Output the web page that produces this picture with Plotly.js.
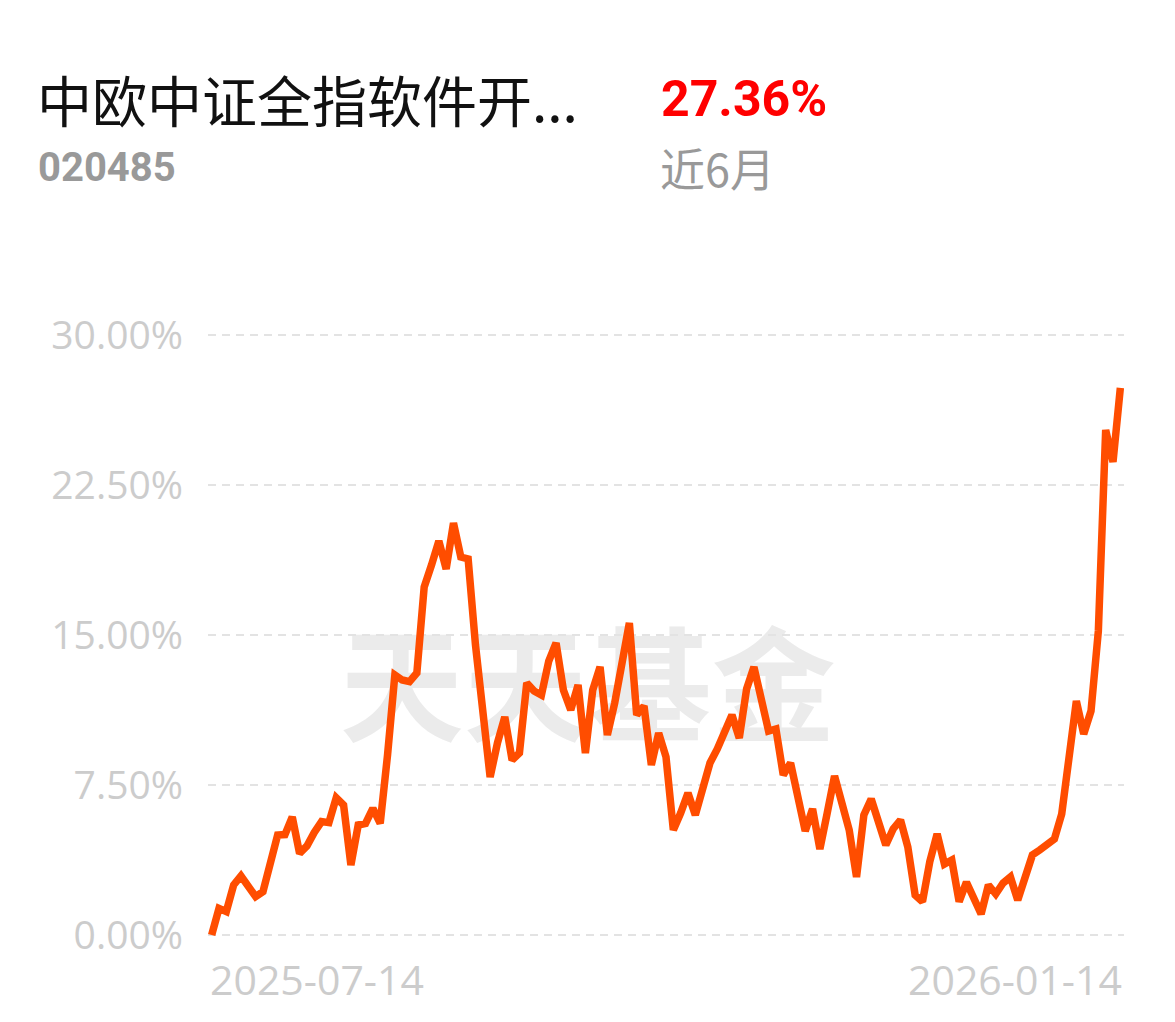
<!DOCTYPE html>
<html>
<head>
<meta charset="utf-8">
<script src="https://cdn.plot.ly/plotly-3.0.1.min.js"></script>
<style>
  html, body { margin: 0; padding: 0; background: #ffffff; }
  #chart { width: 1175px; height: 1022px; }
</style>
</head>
<body>
<div id="chart"></div>
<script>
// ---- data ----
const fundName = '中欧中证全指软件开...';
const fundCode = '020485';
const periodReturn = '27.36%';
const periodLabel = '近6月';
const watermark = '天天基金';
const dateLabels = ['2025-07-14', '2026-01-14'];
const yTickVals = [0, 7.5, 15, 22.5, 30];
const yTickText = ['0.00%', '7.50%', '15.00%', '22.50%', '30.00%'];
const returns = [
  0.0, 1.33, 1.17, 2.5, 2.95, 2.43, 1.92, 2.17, 3.6, 5.0,
  5.02, 5.9, 4.08, 4.45, 5.13, 5.67, 5.62, 6.86, 6.5, 3.5,
  5.5, 5.58, 6.33, 5.58, 9.0, 13.0, 12.75, 12.67, 13.1, 17.4,
  18.5, 19.7, 18.3, 20.6, 18.9, 18.8, 14.5, 11.0, 7.9, 9.6,
  10.9, 8.75, 9.1, 12.6, 12.2, 12.0, 13.7, 14.6, 12.25, 11.25,
  12.5, 9.1, 12.25, 13.4, 10.0, 11.6, 13.5, 15.6, 11.0, 11.45,
  8.5, 10.1, 8.9, 5.25, 6.1, 7.1, 6.0, 7.3, 8.6, 9.3,
  10.1, 11.0, 9.85, 12.3, 13.4, 11.8, 10.2, 10.3, 8.0, 8.6,
  6.8, 5.2, 6.3, 4.3, 6.1, 7.95, 6.6, 5.25, 2.9, 6.0,
  6.8, 5.75, 4.5, 5.3, 5.75, 4.4, 2.0, 1.67, 3.67, 5.05,
  3.55, 3.75, 1.67, 2.64, 1.87, 1.05, 2.5, 2.05, 2.6, 2.9,
  1.75, 2.9, 4.0, 4.25, 4.55, 4.8, 6.05, 8.9, 11.7, 10.05,
  11.2, 15.2, 25.25, 23.65, 27.36
];

// ---- geometry ----
const W = 1175, H = 1022;
const lastIdx = returns.length - 1;
const dataL = 211.5, dataR = 1120;          // pixel x of first / last point
const step = (dataR - dataL) / lastIdx;
const xPad = 0.5;                            // index padding so line caps are not clipped
const yPad = 0.25;                           // % padding so edge gridlines are drawn
const L = dataL - xPad * step, R = dataR + xPad * step;
const T = 335 - yPad * 20, B = 935 + yPad * 20;
const px = x => (x - L) / (R - L);
const py = y => (B - y) / (B - T);

const xIdx = returns.map((_, i) => i);

const trace = {
  x: xIdx,
  y: returns,
  type: 'scatter',
  mode: 'lines',
  line: { color: '#FF4D00', width: 7.5, shape: 'linear' },
  cliponaxis: false,
  hoverinfo: 'skip'
};

const yLabelFont = { family: 'Open Sans, DejaVu Sans, sans-serif', size: 39, color: '#cccccc' };
const xLabelFont = { family: 'Open Sans, DejaVu Sans, sans-serif', size: 41, color: '#cccccc' };

const layout = {
  width: W,
  height: H,
  margin: { l: L, r: W - R, t: T, b: H - B, pad: 0 },
  paper_bgcolor: '#ffffff',
  plot_bgcolor: 'rgba(0,0,0,0)',
  showlegend: false,
  xaxis: {
    range: [-xPad, lastIdx + xPad],
    showgrid: false,
    zeroline: false,
    showline: false,
    showticklabels: false,
    ticks: '',
    fixedrange: true
  },
  yaxis: {
    range: [-yPad, 30 + yPad],
    tickvals: yTickVals,
    ticktext: yTickText,
    showgrid: true,
    gridcolor: '#e3e3e3',
    gridwidth: 2,
    griddash: '8px,6px',
    zeroline: false,
    showline: false,
    ticks: '',
    ticklabelstandoff: 24,
    tickfont: yLabelFont,
    fixedrange: true
  },
  shapes: [{
    type: 'rect', xref: 'paper', yref: 'paper', layer: 'below',
    x0: px(340), x1: px(835), y0: py(758), y1: py(638),
    line: { width: 0 }, fillcolor: 'rgba(0,0,0,0)',
    label: {
      text: watermark,
      textposition: 'middle center',
      font: { family: 'Noto Sans CJK SC', size: 124, color: '#ebebeb', weight: 700 }
    }
  }],
  annotations: [
    { text: fundName, xref: 'paper', yref: 'paper', x: px(35), y: py(98), xanchor: 'left', yanchor: 'middle',
      showarrow: false, font: { family: 'Noto Sans CJK SC', size: 55, color: '#111111' } },
    { text: '<b>' + fundCode + '</b>', xref: 'paper', yref: 'paper', x: px(36), y: py(167), xanchor: 'left', yanchor: 'middle',
      showarrow: false, font: { family: 'Roboto, sans-serif', size: 40, color: '#999999' } },
    { text: '<b>' + periodReturn + '</b>', xref: 'paper', yref: 'paper', x: px(659), y: py(99), xanchor: 'left', yanchor: 'middle',
      showarrow: false, font: { family: 'Roboto, sans-serif', size: 50, color: '#ff0000' } },
    { text: periodLabel, xref: 'paper', yref: 'paper', x: px(658), y: py(168), xanchor: 'left', yanchor: 'middle',
      showarrow: false, font: { family: 'Noto Sans CJK SC', size: 45, color: '#999999' } },
    { text: dateLabels[0], xref: 'x', yref: 'paper', x: -xPad, y: py(979), xanchor: 'left', yanchor: 'middle',
      showarrow: false, font: xLabelFont },
    { text: dateLabels[1], xref: 'x', yref: 'paper', x: lastIdx + xPad, y: py(979), xanchor: 'right', yanchor: 'middle',
      showarrow: false, font: xLabelFont }
  ]
};

Plotly.newPlot('chart', [trace], layout, { displayModeBar: false, staticPlot: true });
</script>
</body>
</html>
